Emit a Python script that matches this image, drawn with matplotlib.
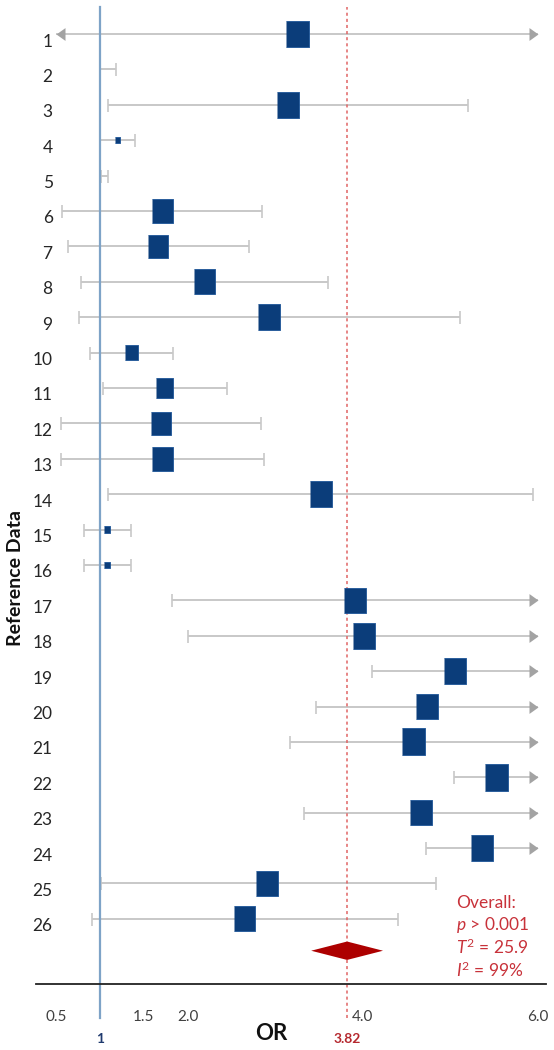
import numpy as np
import matplotlib.pyplot as plt
from matplotlib.transforms import ScaledTranslation

plt.rcParams['font.family'] = ['Lato', 'DejaVu Sans']
plt.rcParams['mathtext.fontset'] = 'custom'
plt.rcParams['mathtext.rm'] = 'Lato'
plt.rcParams['mathtext.it'] = 'Lato:italic'

# study rows (top to bottom)
study_labels = [str(i) for i in range(1, 27)]

# odds ratio point estimates (nan = no estimate drawn)
or_est = [3.25, np.nan, 3.15, 1.20, np.nan, 1.71, 1.66, 2.19, 2.93, 1.36,
          1.74, 1.70, 1.71, 3.52, 1.08, 1.08, 3.91, 4.01, 5.05, 4.73,
          4.58, 5.52, 4.66, 5.36, 2.91, 2.65]
# 95% CI bounds (inf = beyond the plotted range)
ci_low = [0.20, 1.00, 1.09, 1.00, 1.01, 0.57, 0.63, 0.78, 0.76, 0.89,
          1.04, 0.56, 0.55, 1.09, 0.82, 0.82, 1.82, 2.01, 4.11, 3.47,
          3.17, 5.04, 3.33, 4.72, 1.01, 0.91]
ci_high = [np.inf, 1.18, 5.20, 1.40, 1.09, 2.85, 2.70, 3.60, 5.11, 1.83,
           2.45, 2.84, 2.87, 5.94, 1.35, 1.35, np.inf, np.inf, np.inf, np.inf,
           np.inf, np.inf, np.inf, np.inf, 4.83, 4.40]
# study weights (box size)
weights = [4.0, 0, 3.8, 0.9, 0, 3.6, 3.5, 3.7, 3.8, 2.3,
           3.0, 3.5, 3.6, 3.8, 1.0, 1.0, 3.8, 3.8, 3.8, 3.8,
           4.0, 4.0, 3.8, 3.8, 3.8, 3.7]

# pooled estimate
overall_or = 3.82
overall_low = 3.41
overall_high = 4.23
overall_text = ['Overall:', r'$p$ > 0.001', r'$T^{\mathrm{2}}$ = 25.9', r'$I^{\mathrm{2}}$ = 99%']

xticks = [0.5, 1.5, 2.0, 4.0, 6.0]
xtick_labels = ['0.5', '1.5', '2.0', '4.0', '6.0']
x_min_show, x_max_show = 0.5, 6.0

navy = '#0b3d7a'
grey_line = '#c8c8c8'
grey_arrow = '#a3a3a3'
red = '#c8323a'

rows = np.arange(1, len(study_labels) + 1)
or_est = np.array(or_est)
lo = np.array(ci_low)
hi = np.array(ci_high)
w = np.array(weights)

fig = plt.figure(figsize=(5.54, 10.5), dpi=100)
ax = fig.add_axes([36 / 554, 66 / 1050, 510 / 554, 979 / 1050])

# confidence intervals
lo_c = np.clip(lo, x_min_show, x_max_show)
hi_c = np.clip(hi, x_min_show, x_max_show)
ax.hlines(rows, lo_c, hi_c, color=grey_line, lw=1.4, zorder=1)

cap_ms = 13 * 0.72
lo_ok = lo >= x_min_show
hi_ok = hi <= x_max_show
ax.plot(lo[lo_ok], rows[lo_ok], ls='none', marker='|', ms=cap_ms, mew=1.2, color=grey_line, zorder=1)
ax.plot(hi[hi_ok], rows[hi_ok], ls='none', marker='|', ms=cap_ms, mew=1.2, color=grey_line, zorder=1)

right_arrow = [(0, 0), (-0.7, 0.5), (-0.7, -0.5)]
left_arrow = [(0, 0), (0.7, 0.5), (0.7, -0.5)]
ax.plot(hi_c[~hi_ok], rows[~hi_ok], ls='none', marker=right_arrow, ms=18 * 0.72,
        color=grey_arrow, mew=0, zorder=1)
ax.plot(lo_c[~lo_ok], rows[~lo_ok], ls='none', marker=left_arrow, ms=18 * 0.72,
        color=grey_arrow, mew=0, zorder=1)

# reference lines
ax.axvline(1, ymin=-0.035, ymax=0.998, color='#7ea3c7', lw=1.6, clip_on=False, zorder=2)
ax.axvline(overall_or, ymin=-0.035, ymax=0.998, color='#e06464', lw=1.1,
           ls=(0, (2, 2)), clip_on=False, zorder=2)

# study boxes
box = [(-1, -1.17), (1, -1.17), (1, 1.17), (-1, 1.17)]
box_h = w * 5.75 * 1.17 * 0.72
has_est = ~np.isnan(or_est)
ax.scatter(or_est[has_est], rows[has_est], s=box_h[has_est] ** 2, marker=box,
           color=navy, edgecolors='#1d5597', linewidths=0.6, zorder=3)

# pooled diamond
d_row = len(rows) + 0.9
d_h = 0.26
ax.fill([overall_low, overall_or, overall_high, overall_or],
        [d_row, d_row - d_h, d_row, d_row + d_h], color='#ad0000', lw=0, zorder=3)

for i, line in enumerate(overall_text):
    ax.text(5.06, 25.55 + i * 0.63, line, color=red, fontsize=12.5, va='center', ha='left')

ax.set_xlim(0.27, 6.09)
ax.set_ylim(27.84, 0.18)

ax.set_yticks(rows, study_labels)
ax.tick_params(axis='y', length=0, pad=-12, labelsize=12.5, labelcolor='#262626')
offset = ScaledTranslation(0, -6 / 100, fig.dpi_scale_trans)
for lab in ax.get_yticklabels():
    lab.set_transform(lab.get_transform() + offset)

ax.set_xticks(xticks, xtick_labels)
ax.tick_params(axis='x', length=0, pad=19, labelsize=11, labelcolor='#404040')

for s in ['top', 'right', 'left']:
    ax.spines[s].set_visible(False)
ax.spines['bottom'].set_color('#222222')
ax.spines['bottom'].set_linewidth(1.3)

# bottom annotations
ax.text(1, -0.056, '1', transform=ax.get_xaxis_transform(), ha='center', va='center',
        fontsize=10, fontweight='bold', color='#1f3a6e')
ax.text(overall_or, -0.056, '3.82', transform=ax.get_xaxis_transform(), ha='center', va='center',
        fontsize=10, fontweight='bold', color='#b5282e')
ax.set_xlabel('OR', fontsize=16, fontweight='bold', color='#111111')
ax.xaxis.set_label_coords(0.461, -0.0505)
ax.xaxis.label.set_va('center')

fig.text(16 / 554, 1 - 578 / 1050, 'Reference Data', rotation=90, ha='center', va='center',
         fontsize=14, fontweight='bold', color='#111111')

fig.savefig('out.png', dpi=100)
